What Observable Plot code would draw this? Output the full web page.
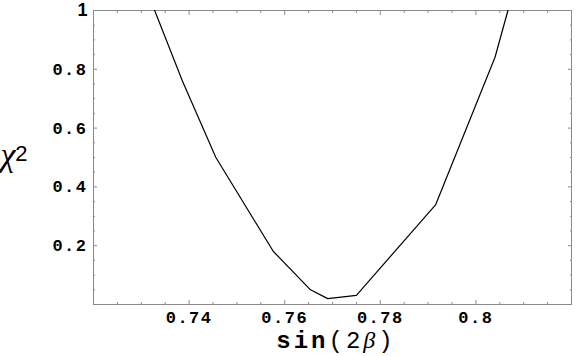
<!DOCTYPE html>
<html>
<head>
<meta charset="utf-8">
<script src="https://cdn.jsdelivr.net/npm/d3@7"></script>
<script src="https://cdn.jsdelivr.net/npm/@observablehq/plot@0.6"></script>
<style>
  html, body { margin: 0; padding: 0; background: #fff; }
</style>
</head>
<body>
<div id="chart"></div>
<script>
// Data
const sin2b = [0.7328, 0.7386, 0.7456, 0.7576, 0.7654, 0.7690, 0.7750, 0.7916, 0.8040, 0.8067];
const chi2  = [1.000,  0.760,  0.500,  0.181,  0.050,  0.020,  0.031,  0.340,  0.841,  1.000];

const xTicks = [0.74, 0.76, 0.78, 0.8];
const yTicks = [0.2, 0.4, 0.6, 0.8, 1];
const xMinor = [0.725, 0.73, 0.735, 0.745, 0.75, 0.755, 0.765, 0.77, 0.775, 0.785, 0.79, 0.795, 0.805, 0.81, 0.815];
const yMinor = [0.05, 0.1, 0.15, 0.25, 0.3, 0.35, 0.45, 0.5, 0.55, 0.65, 0.7, 0.75, 0.85, 0.9, 0.95];

const data = sin2b.map((x, i) => ({x, y: chi2[i]}));

const frameColor = "#8a8a8a";
const tickFont = "'Liberation Mono', 'DejaVu Sans Mono', monospace";

const plot = Plot.plot({
  width: 576,
  height: 356,
  marginLeft: 93,
  marginRight: 5,
  marginTop: 10,
  marginBottom: 52,
  x: {domain: [0.72, 0.82]},
  y: {domain: [0, 1]},
  style: {fontFamily: tickFont, fontSize: "17px", fontWeight: "bold", background: "#fff"},
  marks: [
    // inward major ticks on all four sides
    Plot.axisX(xTicks, {anchor: "bottom", tickSize: -4, text: null, label: null, stroke: frameColor}),
    Plot.axisX(xTicks, {anchor: "top", tickSize: -4, text: null, label: null, stroke: frameColor}),
    Plot.axisY(yTicks, {anchor: "left", tickSize: -4, text: null, label: null, stroke: frameColor}),
    Plot.axisY(yTicks, {anchor: "right", tickSize: -4, text: null, label: null, stroke: frameColor}),
    // inward minor ticks
    Plot.axisX(xMinor, {anchor: "bottom", tickSize: -2, text: null, label: null, stroke: frameColor}),
    Plot.axisX(xMinor, {anchor: "top", tickSize: -2, text: null, label: null, stroke: frameColor}),
    Plot.axisY(yMinor, {anchor: "left", tickSize: -2, text: null, label: null, stroke: frameColor}),
    Plot.axisY(yMinor, {anchor: "right", tickSize: -2, text: null, label: null, stroke: frameColor}),
    // tick labels
    Plot.axisX(xTicks, {anchor: "bottom", tickSize: 0, tickPadding: 6, label: null, tickFormat: d => String(d)}),
    Plot.axisY(yTicks, {anchor: "left", tickSize: 0, tickPadding: 6, label: null, tickFormat: d => String(d)}),
    Plot.frame({stroke: frameColor, strokeWidth: 1}),
    Plot.line(data, {x: "x", y: "y", stroke: "#000", strokeWidth: 1.2, clip: true})
  ]
});

const svg = d3.select(plot);
// wider Courier-like spacing of the tick numbers
svg.selectAll("[aria-label='x-axis tick label'] text, [aria-label='y-axis tick label'] text")
  .style("letter-spacing", "1.5px");
// the "1" label is set in a sans face in the reference
svg.selectAll("text").filter(function() { return this.textContent === "1"; })
  .style("font-family", "'Liberation Sans', Arial, sans-serif").style("font-size", "18px").style("letter-spacing", "0px");

// x-axis title: sin(2β)
const xl = svg.append("text")
  .attr("x", 336).attr("y", 348)
  .attr("text-anchor", "middle")
  .style("font-size", "24px")
  .style("letter-spacing", "3px")
  .style("fill", "#000");
xl.append("tspan").style("font-family", tickFont).style("font-weight", "bold").text("sin");
xl.append("tspan").style("font-family", tickFont).style("font-weight", "normal").text("(2");
xl.append("tspan").style("font-family", "'Liberation Serif', 'DejaVu Serif', serif").style("font-style", "italic").style("font-weight", "normal").text("β");
xl.append("tspan").style("font-family", tickFont).style("font-weight", "normal").text(")");

// y-axis title: χ²
const yl = svg.append("text")
  .attr("x", 14).attr("y", 166)
  .style("fill", "#000");
yl.append("tspan").style("font-family", "'Liberation Serif', 'DejaVu Serif', serif").style("font-style", "italic").style("font-weight", "normal").style("font-size", "34px").text("χ");
yl.append("tspan").attr("dy", -5).style("font-family", "'Liberation Sans', Arial, sans-serif").style("font-weight", "normal").style("font-size", "22px").text("2");

document.getElementById("chart").appendChild(plot);
</script>
</body>
</html>
